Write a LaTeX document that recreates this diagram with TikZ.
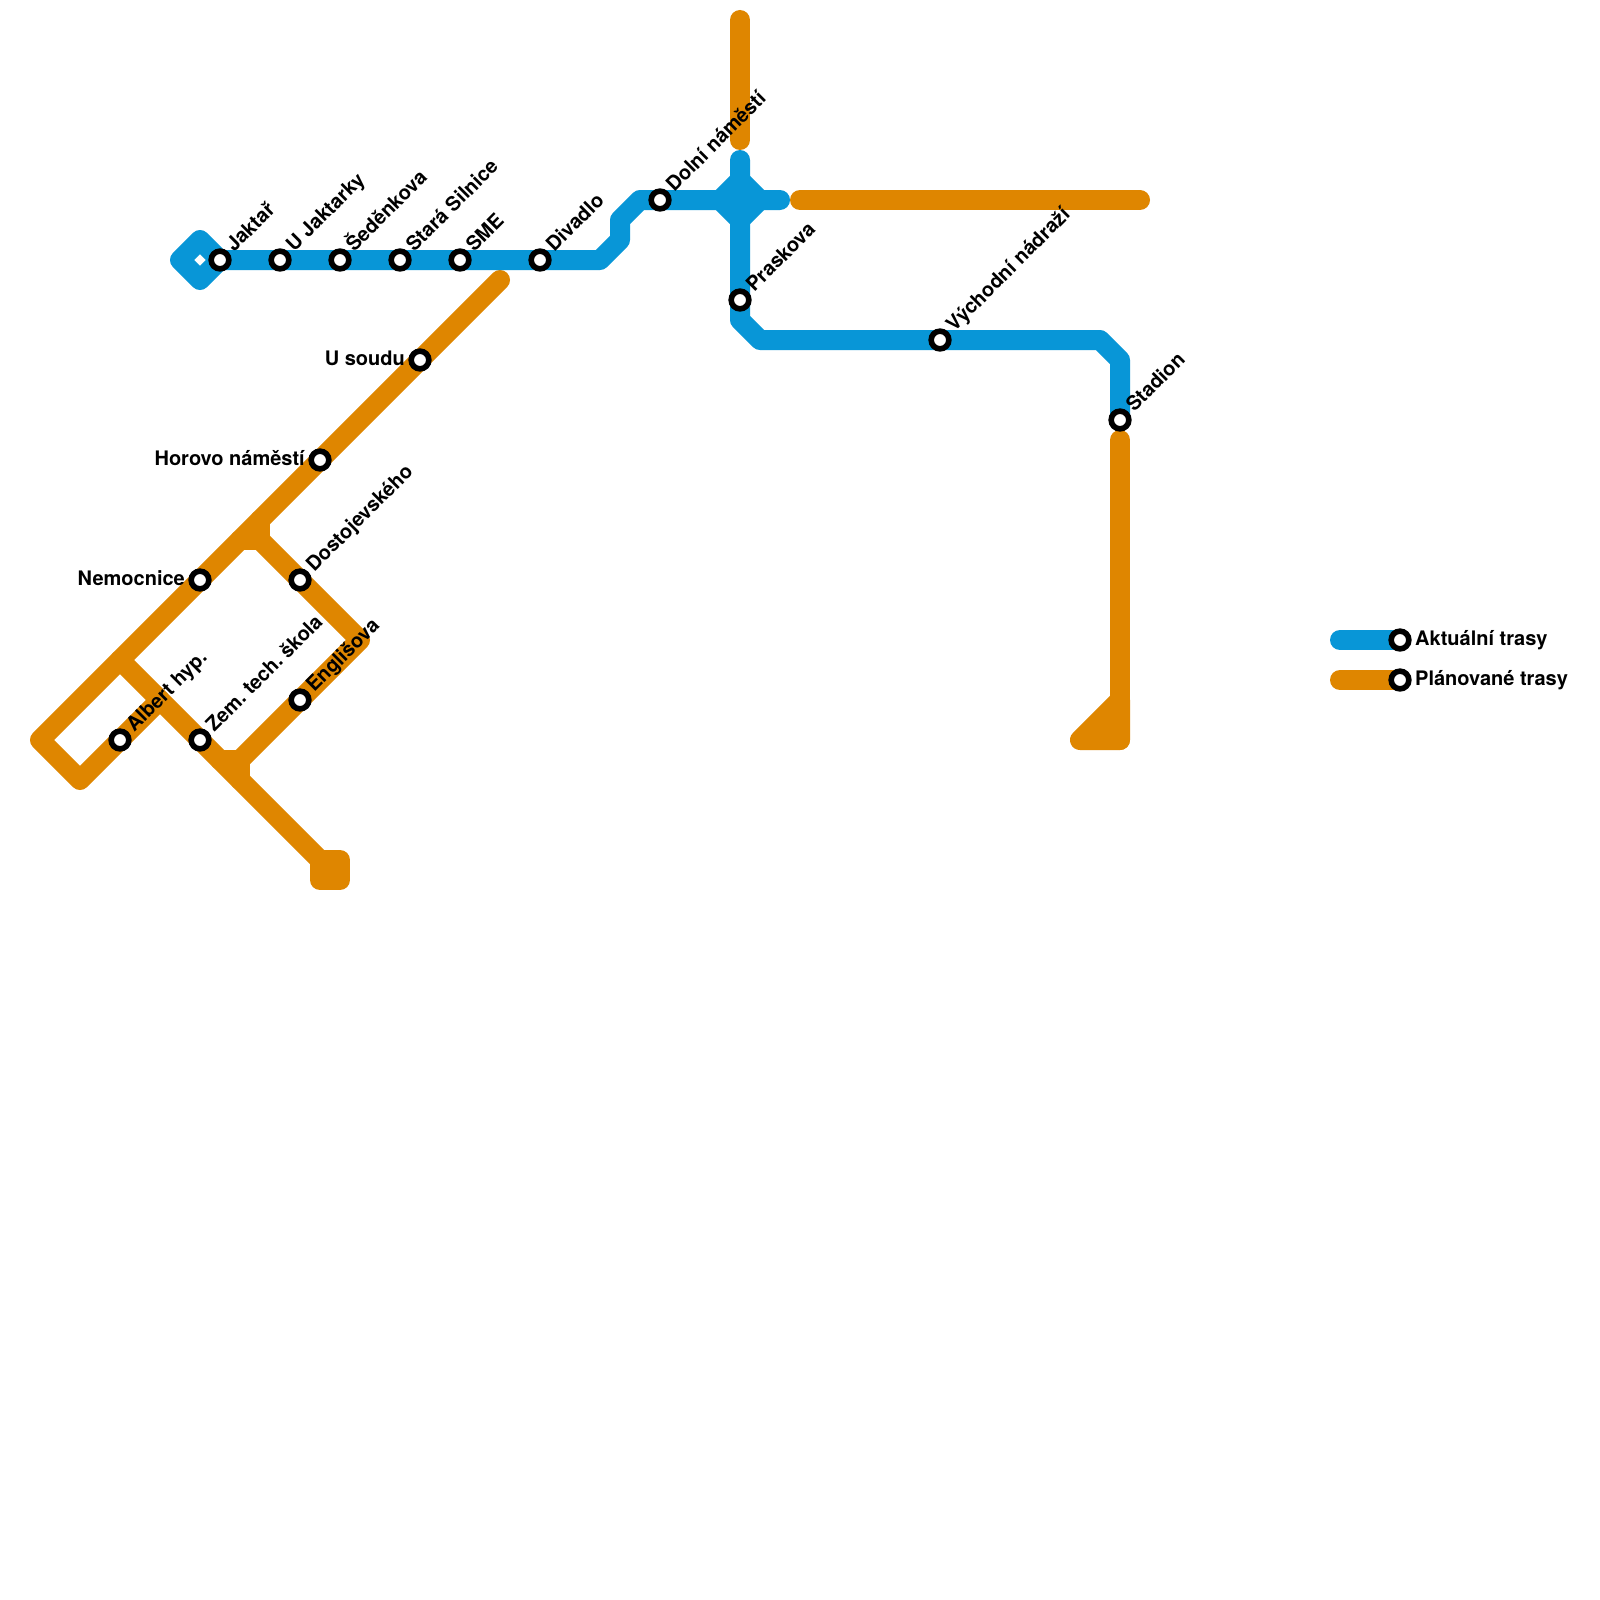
\documentclass[tikz,border=0pt]{standalone}
\usepackage{fontspec}
\setmainfont{TeX Gyre Heros}
\usetikzlibrary{backgrounds}
\definecolor{linea}{HTML}{0896D7}
\definecolor{lineb}{HTML}{DF8600}
\tikzset{
  metro/.style={line width=20pt,line cap=round,line join=round},
  bluel/.style={metro,draw=linea},
  orangel/.style={metro,draw=lineb},
  stn/.style={circle,draw=black,fill=white,line width=5.6pt,inner sep=0pt,minimum size=17.7pt},
  rlabel/.style={anchor=base west,rotate=45,inner sep=0pt,font=\bfseries\fontsize{20pt}{20pt}\selectfont,text=black},
  llabel/.style={anchor=base east,inner sep=0pt,font=\bfseries\fontsize{20pt}{20pt}\selectfont,text=black},
  elabel/.style={anchor=base west,inner sep=0pt,font=\bfseries\fontsize{20pt}{20pt}\selectfont,text=black}
}
\newcommand{\rlab}[2]{\node[rlabel] (l#1) at ([shift={(14.14pt,7.07pt)}]#1.center) {#2};}
\newcommand{\llab}[2]{\node[llabel] (l#1) at ([shift={(-15pt,-5pt)}]#1.center) {#2};}
\newcommand{\elab}[2]{\node[elabel] (l#1) at ([shift={(15pt,-5pt)}]#1.center) {#2};}
\begin{document}
\begin{tikzpicture}[x=1pt,y=-1pt]
\useasboundingbox (0,0) rectangle (1600,1600);
% stations
\node[stn] (jaktar) at (220,260) {};
\node[stn] (ujakt) at (280,260) {};
\node[stn] (sede) at (340,260) {};
\node[stn] (stara) at (400,260) {};
\node[stn] (sme) at (460,260) {};
\node[stn] (divadlo) at (540,260) {};
\node[stn] (dolni) at (660,200) {};
\node[stn] (praskova) at (740,300) {};
\node[stn] (vychod) at (940,340) {};
\node[stn] (stadion) at (1120,420) {};
\node[stn] (usoudu) at (420,360) {};
\node[stn] (horovo) at (320,460) {};
\node[stn] (nemocnice) at (200,580) {};
\node[stn] (dosto) at (300,580) {};
\node[stn] (albert) at (120,740) {};
\node[stn] (zem) at (200,740) {};
\node[stn] (englis) at (300,700) {};
\node[stn] (lega) at (1400,640) {};
\node[stn] (legb) at (1400,680) {};
% labels
\rlab{jaktar}{Jaktař}
\rlab{ujakt}{U Jaktarky}
\rlab{sede}{Šeděnkova}
\rlab{stara}{Stará Silnice}
\rlab{sme}{SME}
\rlab{divadlo}{Divadlo}
\rlab{dolni}{Dolní náměstí}
\rlab{praskova}{Praskova}
\rlab{vychod}{Východní nádraží}
\rlab{stadion}{Stadion}
\rlab{dosto}{Dostojevského}
\rlab{albert}{Albert hyp.}
\rlab{zem}{Zem.\kern-2pt{} tech.\kern-2pt{} škola}
\rlab{englis}{Englišova}
\llab{usoudu}{U soudu}
\llab{horovo}{Horovo náměstí}
\llab{nemocnice}{Nemocnice}
\elab{lega}{Aktuální trasy}
\elab{legb}{Plánované trasy}
% free vertices
\coordinate (b1) at (200,240);
\coordinate (b2) at (180,260);
\coordinate (b3) at (200,280);
\coordinate (b4) at (600,260);
\coordinate (b5) at (620,240);
\coordinate (b6) at (620,220);
\coordinate (b7) at (640,200);
\coordinate (b8) at (780,200);
\coordinate (b9) at (740,160);
\coordinate (b10) at (740,320);
\coordinate (b11) at (760,340);
\coordinate (b12) at (1100,340);
\coordinate (b13) at (1120,360);
\coordinate (d1) at (720,200);
\coordinate (d2) at (740,180);
\coordinate (d3) at (760,200);
\coordinate (d4) at (740,220);
\coordinate (l1) at (1340,640);
\coordinate (l2) at (1340,680);
\coordinate (o1) at (500,280);
\coordinate (o2) at (40,740);
\coordinate (o3) at (80,780);
\coordinate (o4) at (160,700);
\coordinate (o5) at (120,660);
\coordinate (o6) at (240,540);
\coordinate (o7) at (260,540);
\coordinate (o8) at (260,520);
\coordinate (o9) at (360,640);
\coordinate (o10) at (240,760);
\coordinate (o11) at (220,760);
\coordinate (o12) at (240,780);
\coordinate (o13) at (320,860);
\coordinate (o14) at (340,860);
\coordinate (o15) at (340,880);
\coordinate (o16) at (320,880);
\coordinate (o17) at (740,20);
\coordinate (o18) at (740,140);
\coordinate (o19) at (800,200);
\coordinate (o20) at (1140,200);
\coordinate (o21) at (1120,440);
\coordinate (o22) at (1120,740);
\coordinate (o23) at (1080,740);
\coordinate (o24) at (1120,700);
\begin{pgfonlayer}{background}
\fill[white] (0,0) rectangle (1600,1600);
% planned routes
\draw[orangel] (o1) -- (usoudu.center) -- (horovo.center) -- (nemocnice.center) -- (o5) -- (o2) -- (o3) -- (albert.center) -- (o4);
\draw[orangel] (o6) -- (o7) -- (o8);
\draw[orangel] (o7) -- (dosto.center) -- (o9) -- (englis.center) -- (o10) -- (o11);
\draw[orangel] (o5) -- (zem.center) -- (o12) -- (o13);
\draw[orangel,fill=lineb] (o13) -- (o14) -- (o15) -- (o16) -- cycle;
\draw[orangel] (o10) -- (o12);
\draw[orangel] (o17) -- (o18);
\draw[orangel] (o19) -- (o20);
\draw[orangel] (o21) -- (o22);
\draw[orangel,fill=lineb] (o22) -- (o23) -- (o24) -- cycle;
\draw[orangel] (l2) -- (legb.center);
% current routes
\draw[bluel] (jaktar.center) -- (b1) -- (b2) -- (b3) -- cycle;
\draw[bluel] (jaktar.center) -- (ujakt.center) -- (sede.center) -- (stara.center) -- (sme.center) -- (divadlo.center) -- (b4) -- (b5) -- (b6) -- (b7) -- (dolni.center) -- (b8);
\draw[bluel] (b9) -- (praskova.center) -- (b10) -- (b11) -- (vychod.center) -- (b12) -- (b13) -- (stadion.center);
\draw[bluel,fill=linea] (d1) -- (d2) -- (d3) -- (d4) -- cycle;
\draw[bluel] (l1) -- (lega.center);
\end{pgfonlayer}
\end{tikzpicture}
\end{document}
